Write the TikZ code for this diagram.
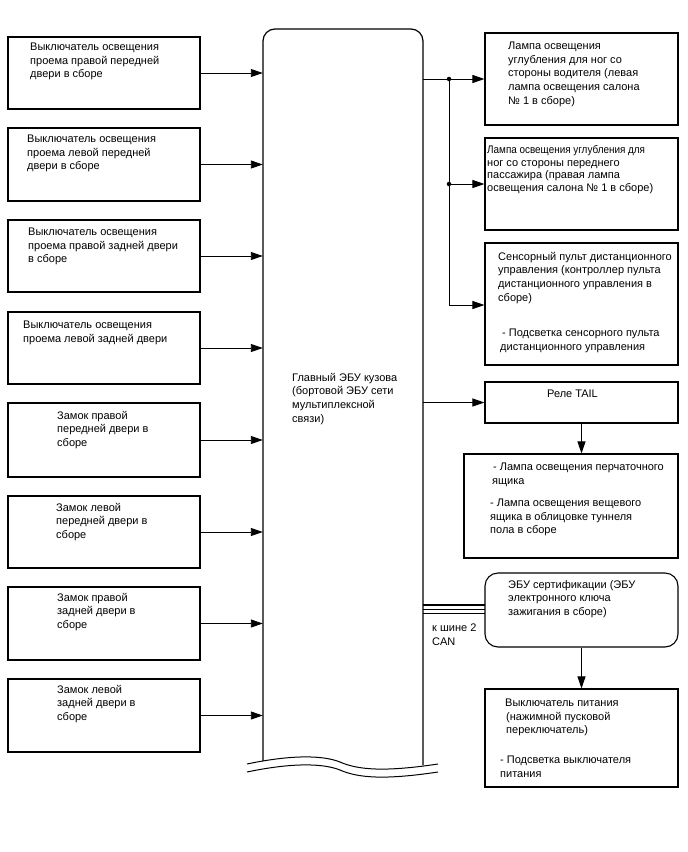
\documentclass[tikz,border=0pt]{standalone}
\usepackage{fontspec}
\setmainfont{Liberation Sans}
\usetikzlibrary{arrows.meta}
\begin{document}
\begin{tikzpicture}[x=1pt,y=-1pt,
  box/.style={draw,line width=1.1pt,minimum width=#1,inner sep=0pt},
  txt/.style={anchor=north west,inner sep=0pt,align=left,yshift=-2pt,font=\fontsize{11}{13.6}\selectfont},
  conn/.style={line width=0.9pt},
  arr/.style={line width=0.9pt,-{Triangle[length=12pt,width=8pt]}},
  dot/.style={circle,fill,inner sep=0pt,minimum size=4.5pt}]
\useasboundingbox (0,0) rectangle (688,852);
% left boxes
\node[box=192pt,minimum height=72pt] (L1) at (104,73) {};
\node[box=192pt,minimum height=73pt] (L2) at (104,164.5) {};
\node[box=192pt,minimum height=72pt] (L3) at (104,256) {};
\node[box=192pt,minimum height=72pt] (L4) at (104,348) {};
\node[box=192pt,minimum height=74pt] (L5) at (104,440) {};
\node[box=192pt,minimum height=72pt] (L6) at (104,532) {};
\node[box=192pt,minimum height=73pt] (L7) at (104,623.5) {};
\node[box=192pt,minimum height=73pt] (L8) at (104,715.5) {};
\node[txt] (L1t) at (30,41) {Выключатель освещения\\проема правой передней\\двери в сборе};
\node[txt] (L2t) at (27,133) {Выключатель освещения\\проема левой передней\\двери в сборе};
\node[txt] (L3t) at (28,226) {Выключатель освещения\\проема правой задней двери\\в сборе};
\node[txt] (L4t) at (23,319) {Выключатель освещения\\проема левой задней двери};
\node[txt] (L5t) at (57,409) {Замок правой\\передней двери в\\сборе};
\node[txt] (L6t) at (56,501) {Замок левой\\передней двери в\\сборе};
\node[txt] (L7t) at (57,591) {Замок правой\\задней двери в\\сборе};
\node[txt] (L8t) at (57,683) {Замок левой\\задней двери в\\сборе};
% main ECU
\node[minimum width=160pt,minimum height=736pt,inner sep=0pt] (M) at (343,397) {};
\draw[line width=1.2pt,rounded corners=12pt] (263,761) -- (263,29) -- (423,29) -- (423,765);
\node[txt] (Mt) at (292,371) {Главный ЭБУ кузова\\(бортовой ЭБУ сети\\мультиплексной\\связи)};
% break lines
\draw[line width=1pt] (247,764) .. controls (285,756) and (320,754) .. (340,762)
  .. controls (358,770) and (385,772) .. (438,764);
\draw[line width=1pt] (247,772) .. controls (285,764) and (320,762) .. (340,770)
  .. controls (358,778) and (385,780) .. (438,772);
% left arrows
\foreach \i in {1,...,8} {\draw[arr] (L\i.east) -- (L\i.east -| M.west);}
% right boxes
\node[box=193pt,minimum height=92pt] (R1) at (581.5,79) {};
\node[box=193pt,minimum height=92pt] (R2) at (581.5,184) {};
\node[box=193pt,minimum height=122pt] (R3) at (581.5,304) {};
\node[box=193pt,minimum height=41pt] (R4) at (581.5,402.5) {};
\node[box=214pt,minimum height=104pt] (R5) at (571,506) {};
\node[box=193pt,minimum height=74pt,rounded corners=13pt] (R6) at (581.5,610) {};
\node[box=193pt,minimum height=98pt] (R7) at (581.5,738) {};
\node[txt] (R1t) at (508,40) {Лампа освещения\\углубления для ног со\\стороны водителя (левая\\лампа освещения салона\\№ 1 в сборе)};
\node[txt,font=\fontsize{11}{12.8}\selectfont] (R2t) at (487,143) {{\addfontfeature{FakeStretch=0.9}Лампа освещения углубления для}\\ног со стороны переднего\\пассажира (правая лампа\\освещения салона № 1 в сборе)};
\node[txt] (R3t) at (498,250) {Сенсорный пульт дистанционного\\управления (контроллер пульта\\дистанционного управления в\\сборе)};
\node[txt] (R3u) at (500,327) {\hspace*{2pt}- Подсветка сенсорного пульта\\дистанционного управления};
\node[txt] (R4t) at (547,388) {Реле TAIL};
\node[txt] (R5t) at (492,461) {\hspace*{1pt}- Лампа освещения перчаточного\\ящика};
\node[txt] (R5u) at (490,497) {- Лампа освещения вещевого\\ящика в облицовке туннеля\\пола в сборе};
\node[txt] (R6t) at (508,578) {ЭБУ сертификации (ЭБУ\\электронного ключа\\зажигания в сборе)};
\node[txt] (CANt) at (432,622) {к шине 2\\CAN};
\node[txt] (R7t) at (505,697) {Выключатель питания\\\hspace*{1pt}(нажимной пусковой\\\hspace*{1pt}переключатель)};
\node[txt] (R7u) at (500,754) {- Подсветка выключателя\\питания};
% right connectors
\coordinate (J1) at (449,79);
\coordinate (J2) at (449,184);
\coordinate (J3) at (449,305);
\draw[conn] (M.east |- R1.west) -- (J1);
\draw[arr] (J1) -- (R1.west);
\draw[conn] (J1) -- (J3);
\draw[arr] (J2) -- (R2.west);
\draw[arr] (J3) -- (R3.west |- J3);
\node[dot] at (J1) {};
\node[dot] at (J2) {};
\draw[arr] (M.east |- R4.west) -- (R4.west);
\draw[arr] (R4.south) -- (R4.south |- R5.north);
\draw[arr] (R6.south) -- (R6.south |- R7.north);
% CAN lines
\coordinate (C1a) at (423,604.5); \coordinate (C1b) at (485,604.5);
\coordinate (C2a) at (423,609); \coordinate (C2b) at (485,609);
\coordinate (C3a) at (423,613.2); \coordinate (C3b) at (485,613.2);
\draw[line width=2pt] (C1a) -- (C1b);
\draw[line width=1pt] (C2a) -- (C2b);
\draw[line width=1.2pt] (C3a) -- (C3b);
\end{tikzpicture}
\end{document}
